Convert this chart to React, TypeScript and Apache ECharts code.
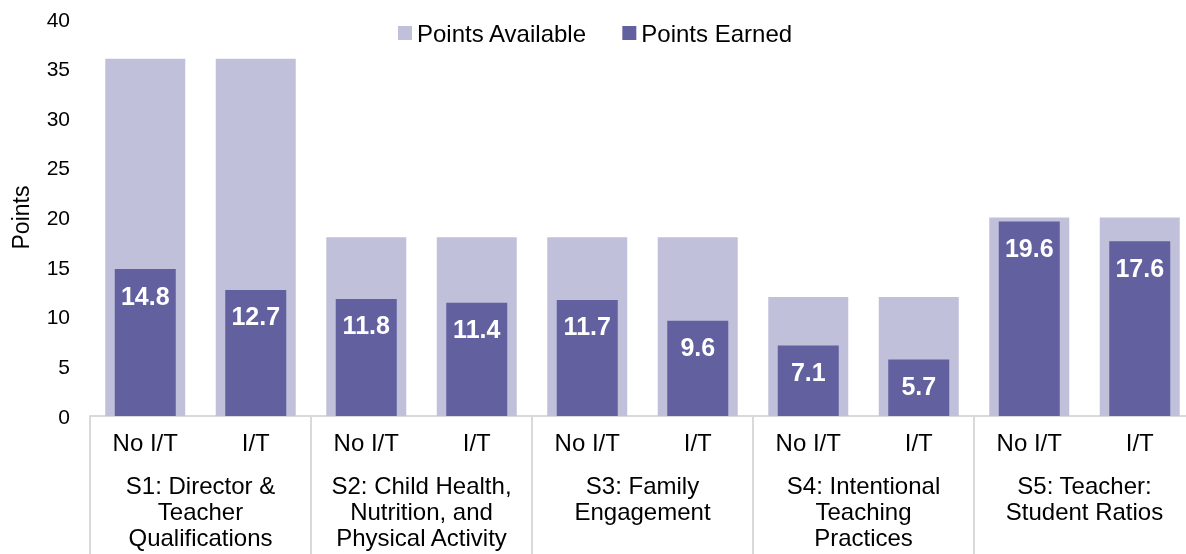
import React, { useEffect, useRef } from "react";
import * as echarts from "echarts";

const subLabels = ["No I/T", "I/T", "No I/T", "I/T", "No I/T", "I/T", "No I/T", "I/T", "No I/T", "I/T"];
const groupLabels = [
  "S1: Director &\nTeacher\nQualifications",
  "S2: Child Health,\nNutrition, and\nPhysical Activity",
  "S3: Family\nEngagement",
  "S4: Intentional\nTeaching\nPractices",
  "S5: Teacher:\nStudent Ratios",
];
const pointsAvailable = [36, 36, 18, 18, 18, 18, 12, 12, 20, 20];
const pointsEarned = [14.8, 12.7, 11.8, 11.4, 11.7, 9.6, 7.1, 5.7, 19.6, 17.6];
const yTicks = { min: 0, max: 40, interval: 5 };

const FONT = "Liberation Sans, Arial, sans-serif";

export default function App() {
  const ref = useRef<HTMLDivElement>(null);
  useEffect(() => {
    if (!ref.current) return;
    const chart = echarts.init(ref.current, null, { renderer: "svg" });
    chart.setOption({
      animation: false,
      textStyle: { fontFamily: FONT },
      legend: {
        top: 16,
        left: 393,
        itemWidth: 14,
        itemHeight: 14,
        itemGap: 35,
        icon: "rect",
        textStyle: { fontSize: 24, color: "#000", fontFamily: FONT },
        data: ["Points Available", "Points Earned"],
      },
      grid: { left: 90, top: 19, width: 1105, bottom: 138, outerBoundsMode: "none", containLabel: false },
      yAxis: {
        type: "value",
        min: yTicks.min,
        max: yTicks.max,
        interval: yTicks.interval,
        name: "Points",
        nameLocation: "middle",
        nameGap: 58,
        nameTextStyle: { fontSize: 23, color: "#000", fontFamily: FONT },
        axisLine: { show: false },
        axisTick: { show: false },
        splitLine: { show: false },
        axisLabel: { fontSize: 21, color: "#000", margin: 20, fontFamily: FONT },
      },
      xAxis: [
        {
          type: "category",
          data: subLabels,
          position: "bottom",
          axisLine: { show: true, lineStyle: { color: "#D9D9D9", width: 2 } },
          axisTick: { show: false },
          axisLabel: { fontSize: 24, color: "#000", margin: 14, interval: 0, fontFamily: FONT },
        },
        {
          type: "category",
          data: groupLabels,
          position: "bottom",
          axisLine: { show: false },
          axisTick: { show: true, length: 140, lineStyle: { color: "#D9D9D9", width: 2 } },
          axisLabel: { fontSize: 24, color: "#000", margin: 56, interval: 0, lineHeight: 26, fontFamily: FONT },
        },
        {
          type: "category",
          data: subLabels,
          position: "bottom",
          show: false,
        },
      ],
      series: [
        {
          name: "Points Available",
          type: "bar",
          xAxisIndex: 0,
          data: pointsAvailable,
          barWidth: 80,
          itemStyle: { color: "#C0C0DB" },
        },
        {
          name: "Points Earned",
          type: "bar",
          xAxisIndex: 2,
          data: pointsEarned,
          barWidth: 61,
          itemStyle: { color: "#62609F" },
          label: {
            show: true,
            position: "insideTop",
            distance: 14,
            color: "#fff",
            fontWeight: "bold",
            fontSize: 25,
            fontFamily: FONT,
            formatter: (p: any) => p.value.toFixed(1),
          },
        },
      ],
    });
    return () => chart.dispose();
  }, []);
  return <div ref={ref} style={{ position: "fixed", left: 0, top: 0, width: 1186, height: 554 }} />;
}
